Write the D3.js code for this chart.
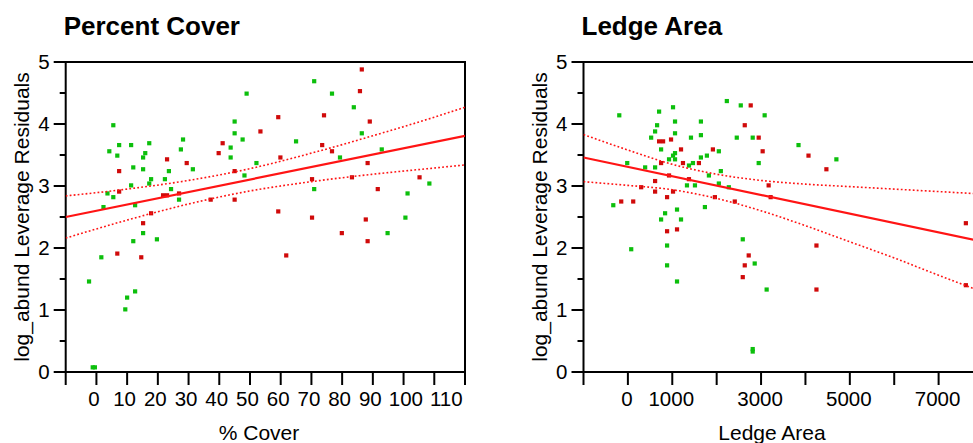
<!DOCTYPE html>
<html>
<head>
<meta charset="utf-8">
<script src="https://cdn.jsdelivr.net/npm/d3@7"></script>
<style>
  body { margin: 0; background: #fff; }
  svg { display: block; font-family: "Liberation Sans", Arial, Helvetica, sans-serif; }
</style>
</head>
<body>
<div id="chart"></div>
<script>
// --- 1. DATA ---
const coverGreen = [[-2.4,1.46],[-1.2,0.075],[-0.5,0.075],[1.6,1.85],[2.3,2.66],[3.6,2.88],[4.2,3.56],[5.5,3.98],[5.5,2.82],[6.8,3.49],[7.4,3.66],[9.4,1.01],[10.0,1.20],[11.3,3.66],[11.3,3.01],[12.0,3.30],[12.0,2.11],[12.6,2.69],[12.6,1.30],[15.2,3.46],[15.2,3.27],[15.2,2.24],[15.9,3.53],[17.2,3.69],[17.2,3.04],[17.8,3.11],[19.7,2.14],[22.3,3.11],[23.6,3.24],[24.3,2.95],[26.9,2.78],[27.5,3.59],[28.2,3.75],[31.4,3.27],[43.7,3.62],[43.7,3.46],[45.0,4.04],[45.0,3.85],[47.6,3.75],[48.2,3.17],[48.9,4.49],[52.1,3.37],[65.0,3.72],[70.9,4.69],[70.9,2.95],[76.7,4.49],[79.3,3.46],[83.8,4.27],[86.4,3.85],[92.9,3.59],[94.8,2.24],[100.6,2.49],[101.3,2.88],[108.4,3.04]];
const coverRed = [[6.8,1.91],[7.4,3.24],[7.4,2.91],[14.6,1.85],[15.2,2.40],[17.8,2.56],[21.7,2.85],[23.0,2.85],[23.0,3.43],[26.9,2.88],[29.4,3.37],[37.2,2.78],[39.8,3.53],[41.1,3.69],[45.0,3.24],[45.0,2.78],[53.4,3.88],[59.2,4.11],[59.2,2.59],[59.9,3.46],[61.8,1.88],[70.2,3.11],[70.2,2.49],[73.5,3.66],[74.1,4.14],[76.7,3.56],[79.9,2.24],[83.2,3.14],[85.8,4.53],[86.4,4.88],[87.7,2.46],[88.3,3.37],[88.3,2.11],[89.0,4.04],[91.6,2.95],[105.2,3.14]];

const ledgeGreen = [[-329,2.69],[-194,4.14],[-15,3.37],[75,1.98],[389,3.30],[524,3.78],[613,3.88],[613,3.30],[658,3.98],[703,4.20],[748,3.59],[748,2.46],[838,2.56],[883,2.04],[883,1.72],[927,3.43],[1017,4.27],[1017,3.49],[1062,4.04],[1062,3.85],[1062,3.53],[1062,3.43],[1107,2.62],[1107,1.46],[1197,2.46],[1331,3.01],[1376,3.33],[1421,3.78],[1466,3.37],[1511,3.01],[1645,4.04],[1645,3.82],[1645,3.46],[1735,2.66],[1780,3.49],[1825,3.17],[2049,3.56],[2049,3.04],[2094,3.24],[2229,4.37],[2274,2.98],[2453,3.78],[2543,4.30],[2588,2.14],[2812,3.78],[2812,0.37],[2812,0.33],[2857,1.75],[2947,3.37],[3081,4.14],[3126,1.33],[3844,3.66],[4697,3.43]];
const ledgeRed = [[-150,2.75],[120,2.75],[299,2.98],[613,3.08],[613,2.91],[703,3.72],[793,3.72],[748,3.37],[883,2.82],[883,2.27],[927,3.17],[972,3.75],[1017,2.91],[1107,2.30],[1197,3.59],[1241,3.37],[1376,3.11],[1600,3.37],[1915,3.59],[1960,2.82],[2408,2.75],[2588,1.53],[2633,3.98],[2633,1.72],[2722,1.88],[2767,4.30],[2947,3.78],[3036,3.56],[3171,3.01],[3216,2.82],[4069,3.49],[4248,2.04],[4248,1.33],[4472,3.27],[7614,2.40],[7614,1.40]];

// fit line and confidence curves, [x, y] read at a few x positions
const coverFit = [[-10,2.50],[120,3.81]];
const coverUpper = [[-10,2.84],[10,2.95],[30,3.09],[50,3.28],[70,3.53],[90,3.81],[110,4.11],[120,4.27]];
const coverLower = [[-10,2.16],[10,2.45],[30,2.71],[50,2.92],[70,3.07],[90,3.19],[110,3.29],[120,3.34]];
const ledgeFit = [[-1000,3.46],[8000,2.10]];
const ledgeUpper = [[-1000,3.83],[0,3.58],[1000,3.35],[2000,3.19],[3000,3.09],[4000,3.03],[5000,2.99],[6000,2.95],[7000,2.91],[8000,2.87]];
const ledgeLower = [[-1000,3.07],[0,3.01],[1000,2.94],[2000,2.80],[3000,2.60],[4000,2.36],[5000,2.10],[6000,1.84],[7000,1.56],[8000,1.29]];

// tick values
const coverTicks = [-10,0,10,20,30,40,50,60,70,80,90,100,110,120];
const coverTickLabels = [0,10,20,30,40,50,60,70,80,90,100,110];
const ledgeTicks = [-1000,0,1000,2000,3000,4000,5000,6000,7000,8000];
const ledgeTickLabels = [0,1000,3000,5000,7000];
const yMajor = [0,1,2,3,4,5];
const yMinor = [0.5,1.5,2.5,3.5,4.5];

const GREEN = "#0cbf0c", RED = "#d00a0a", LINE = "#ff1414";

const svg = d3.select("#chart").append("svg")
    .attr("width", 973)
    .attr("height", 443);

/**
 * Draws one leverage plot panel.
 */
function drawPanel(cfg) {
    const top = 62, bottom = 372;
    const x = d3.scaleLinear().domain(cfg.domain).range([cfg.left, cfg.right]);
    const y = d3.scaleLinear().domain([0, 5]).range([bottom, top]);
    const g = svg.append("g");

    // clip for marks
    g.append("clipPath").attr("id", cfg.id + "-clip")
      .append("rect")
        .attr("x", cfg.left).attr("y", top)
        .attr("width", cfg.right - cfg.left).attr("height", bottom - top);

    // title
    g.append("text")
        .attr("x", cfg.left - 2).attr("y", 35)
        .attr("font-size", 26).attr("font-weight", "bold")
        .text(cfg.title);

    // y axis: major + minor ticks
    g.selectAll(".ymaj").data(yMajor).join("line")
        .attr("x1", cfg.left - 12).attr("x2", cfg.left)
        .attr("y1", d => y(d)).attr("y2", d => y(d))
        .attr("stroke", "#000").attr("stroke-width", 2);
    g.selectAll(".ymin").data(yMinor).join("line")
        .attr("x1", cfg.left - 6).attr("x2", cfg.left)
        .attr("y1", d => y(d)).attr("y2", d => y(d))
        .attr("stroke", "#000").attr("stroke-width", 2);
    g.selectAll(".ylab").data(yMajor).join("text")
        .attr("x", cfg.left - 16).attr("y", d => y(d))
        .attr("dy", "0.36em")
        .attr("text-anchor", "end")
        .attr("font-size", 20.5)
        .text(d => d);

    // x axis ticks
    g.selectAll(".xt").data(cfg.ticks).join("line")
        .attr("x1", d => x(d)).attr("x2", d => x(d))
        .attr("y1", bottom).attr("y2", bottom + 13)
        .attr("stroke", "#000").attr("stroke-width", 2);
    const labels = g.selectAll(".xlab").data(cfg.labels).join("text")
        .attr("x", d => x(d) + cfg.labelShift).attr("y", 406)
        .attr("text-anchor", "middle")
        .attr("font-size", 20.5)
        .text(d => d);

    // nudge a label right when it would run into its neighbour
    let prevRight = -Infinity;
    labels.each(function() {
        const b = this.getBBox();
        if (b.x < prevRight + 7) {
            const dx = prevRight + 7 - b.x;
            d3.select(this).attr("x", +d3.select(this).attr("x") + dx);
            prevRight = b.x + b.width + dx;
        } else {
            prevRight = b.x + b.width;
        }
    });

    // frame
    g.append("path")
        .attr("d", `M${cfg.left},${bottom}V${top}H${cfg.right}V${bottom}Z`)
        .attr("fill", "none").attr("stroke", "#000").attr("stroke-width", 2);

    // axis titles
    g.append("text")
        .attr("transform", `translate(${cfg.yLabelX},${(top + bottom) / 2}) rotate(-90)`)
        .attr("text-anchor", "middle")
        .attr("font-size", 21)
        .text("log_abund Leverage Residuals");
    g.append("text")
        .attr("x", cfg.xLabelX).attr("y", 440)
        .attr("text-anchor", "middle")
        .attr("font-size", 21)
        .text(cfg.xTitle);

    const marks = g.append("g").attr("clip-path", `url(#${cfg.id}-clip)`);

    // points
    const s = 4.2;
    [[cfg.green, GREEN], [cfg.red, RED]].forEach(([pts, col]) => {
        marks.selectAll(null).data(pts).join("rect")
            .attr("x", d => x(d[0]) - s / 2)
            .attr("y", d => y(d[1]) - s / 2)
            .attr("width", s).attr("height", s)
            .attr("fill", col);
    });

    // fit + confidence curves
    const line = d3.line().x(d => x(d[0])).y(d => y(d[1]));
    const curve = d3.line().x(d => x(d[0])).y(d => y(d[1])).curve(d3.curveMonotoneX);
    marks.append("path").attr("d", line(cfg.fit))
        .attr("fill", "none").attr("stroke", LINE).attr("stroke-width", 2.2);
    [cfg.upper, cfg.lower].forEach(band => {
        marks.append("path").attr("d", curve(band))
            .attr("fill", "none").attr("stroke", LINE)
            .attr("stroke-width", 1.6).attr("stroke-dasharray", "1.8,2.2");
    });
}

drawPanel({
    id: "cover", title: "Percent Cover", xTitle: "% Cover",
    domain: [-10, 120], left: 65.7, right: 465,
    ticks: coverTicks, labels: coverTickLabels, labelShift: -2.5,
    green: coverGreen, red: coverRed,
    fit: coverFit, upper: coverUpper, lower: coverLower,
    yLabelX: 28.5, xLabelX: 259
});

drawPanel({
    id: "ledge", title: "Ledge Area", xTitle: "Ledge Area",
    domain: [-1000, 8000], left: 583.5, right: 983,
    ticks: ledgeTicks, labels: ledgeTickLabels, labelShift: -1,
    green: ledgeGreen, red: ledgeRed,
    fit: ledgeFit, upper: ledgeUpper, lower: ledgeLower,
    yLabelX: 546.5, xLabelX: 772
});
</script>
</body>
</html>
